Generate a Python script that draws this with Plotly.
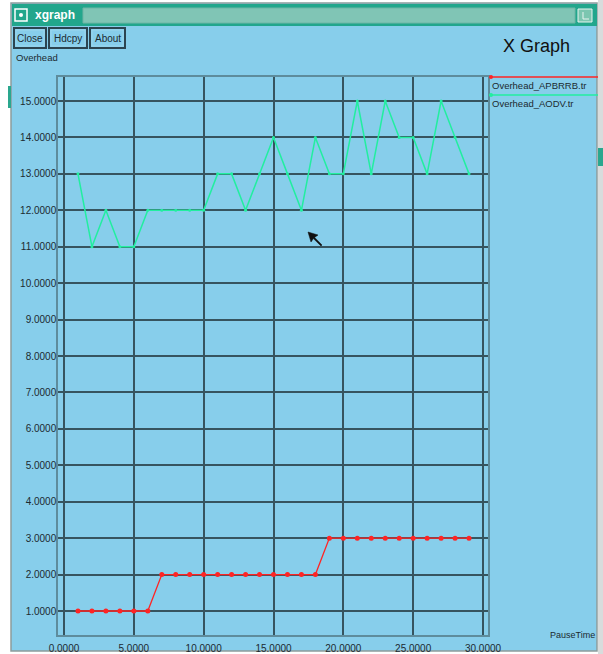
import plotly.graph_objects as go

# ---- data -------------------------------------------------------------
pause_time = list(range(1, 30))
overhead_apbrrb = [1, 1, 1, 1, 1, 1,
                   2, 2, 2, 2, 2, 2, 2, 2, 2, 2, 2, 2,
                   3, 3, 3, 3, 3, 3, 3, 3, 3, 3, 3]
overhead_aodv = [13, 11, 12, 11, 11, 12, 12, 12, 12, 12, 13, 13, 12, 13, 14,
                 13, 12, 14, 13, 13, 15, 13, 15, 14, 14, 13, 15, 14, 13]
series_names = ["Overhead_APBRRB.tr", "Overhead_AODV.tr"]
x_ticks = [0, 5, 10, 15, 20, 25, 30]
y_ticks = list(range(1, 16))
x_label = "PauseTime"
y_label = "Overhead"
graph_title = "X Graph"
window_title = "xgraph"
buttons = ["Close", "Hdcpy", "About"]

# ---- geometry (pixels) ------------------------------------------------
WIDTH, HEIGHT = 603, 654
L, R, T, B = 58, 488, 77, 635          # plot frame
W, H = R - L, B - T
X0_PX, X30_PX = 64, 483                 # pixel of x=0 and x=30
Y15_PX, Y1_PX = 101, 611                # pixel of y=15 and y=1
sx = (X30_PX - X0_PX) / 30.0
sy = (Y1_PX - Y15_PX) / 14.0
x_range = [-(X0_PX - L) / sx, (R - X0_PX) / sx]
y_range = [1 - (B - Y1_PX) / sy, 15 + (Y15_PX - T) / sy]


def px(x):
    return (x - L) / W


def py(y):
    return (B - y) / H


SKY = "#87ceeb"
GRID = "#36545f"
FRAME = "#5e8c9c"
TEXT = "#1c2a30"
RED = "#ff2424"
GREEN = "#22eea0"
FONT = "Liberation Sans, Arial, sans-serif"
NARROW = "Liberation Sans Narrow, Arial Narrow, Liberation Sans, sans-serif"

fig = go.Figure()
fig.add_trace(go.Scatter(
    x=pause_time, y=overhead_apbrrb, name=series_names[0], mode="lines+markers",
    line=dict(color=RED, width=1.3), marker=dict(color=RED, size=5)))
fig.add_trace(go.Scatter(
    x=pause_time, y=overhead_aodv, name=series_names[1], mode="lines+markers",
    line=dict(color=GREEN, width=1.5), marker=dict(color=GREEN, size=3)))

shapes = []
annotations = []


def rect(x0, y0, x1, y1, fill=None, line=None, lw=0, layer="below"):
    shapes.append(dict(type="rect", xref="paper", yref="paper",
                       x0=px(x0), x1=px(x1), y0=py(y1), y1=py(y0),
                       fillcolor=fill if fill else "rgba(0,0,0,0)",
                       line=dict(color=line if line else "rgba(0,0,0,0)", width=lw),
                       layer=layer))


def seg(x0, y0, x1, y1, color, lw, layer="above"):
    shapes.append(dict(type="line", xref="paper", yref="paper",
                       x0=px(x0), x1=px(x1), y0=py(y0), y1=py(y1),
                       line=dict(color=color, width=lw), layer=layer))


def text(s, x, y, size=10, color=TEXT, xa="left", ya="middle", family=FONT, bold=False):
    annotations.append(dict(text=f"<b>{s}</b>" if bold else s, x=px(x), y=py(y),
                            xref="paper", yref="paper", showarrow=False,
                            xanchor=xa, yanchor=ya,
                            font=dict(size=size, color=color, family=family)))


# window body and border
rect(11, 3, 597, 651, fill=SKY, line="#8d9c9c", lw=1.5)
# slivers of other windows around the edges
rect(8, 86, 11, 108, fill="#2aa78e")
rect(598, 0, 603, 654, fill="#d8dcdc")
rect(598, 148, 603, 166, fill="#2aa78e")

# title bar
rect(12, 4, 597, 26, fill="#22a68c")
rect(83, 8, 575, 23, fill="#80c5b5", line="#6fb5a5", lw=1)
rect(15, 9, 27, 21, fill="#22a68c", line="white", lw=1.5)
shapes.append(dict(type="circle", xref="paper", yref="paper",
                   x0=px(19), x1=px(23), y0=py(17), y1=py(13),
                   fillcolor="white", line=dict(color="white", width=0)))
rect(578, 9, 592, 22, fill="#7cc6b0", line="#e8f4f0", lw=1)
seg(583, 12, 583, 19, "#e8f4f0", 1)
seg(583, 19, 589, 19, "#e8f4f0", 1)
text(window_title, 33, 15, size=12, color="white", bold=True)

# buttons
btn_x = [(14, 46), (49, 87), (90, 125)]
for label, (bx0, bx1) in zip(buttons, btn_x):
    rect(bx0, 28, bx1, 48, line="#2c4450", lw=2)
    rect(bx0 + 2, 30, bx1 - 2, 46, line="#9bd6ee", lw=1)
    text(label, (bx0 + bx1) / 2, 38.5, size=10, xa="center", family=NARROW)

text(y_label, 14, 58, size=9.5, family=NARROW)
text(graph_title, 536, 46, size=18, color="#101010", xa="center")
text(x_label, 597, 635, size=9, xa="right", family=NARROW)

# legend
legend_rows = [(77, RED, series_names[0]), (95, GREEN, series_names[1])]
for ly, col, name in legend_rows:
    seg(490, ly, 598, ly, col, 1.4)
    shapes.append(dict(type="circle", xref="paper", yref="paper",
                       x0=px(489), x1=px(493), y0=py(ly + 2), y1=py(ly - 2),
                       fillcolor=col, line=dict(width=0)))
    text(name, 490, ly + 8, size=9.5, family=FONT)

# mouse pointer
pts = [(0, 0), (10, 3), (6.6, 5.4), (14, 13), (13, 14), (5.4, 6.6), (3, 10)]
ox, oy = 308, 232
path = "M " + " L ".join(f"{px(ox + a)},{py(oy + b)}" for a, b in pts) + " Z"
shapes.append(dict(type="path", xref="paper", yref="paper", path=path,
                   fillcolor="#101010", line=dict(color="#101010", width=0.5)))

axis_common = dict(showgrid=True, gridcolor=GRID, gridwidth=1.5, zeroline=False,
                   showline=True, linecolor=FRAME, linewidth=1.5, mirror=True,
                   ticks="", tickfont=dict(size=10, color=TEXT, family=FONT),
                   fixedrange=True, automargin=False)

fig.update_layout(
    width=WIDTH, height=HEIGHT, autosize=False,
    margin=dict(l=L, r=WIDTH - R, t=T, b=HEIGHT - B, autoexpand=False),
    paper_bgcolor="white", plot_bgcolor=SKY,
    showlegend=False,
    xaxis=dict(range=x_range, tickvals=x_ticks, ticklabelstandoff=3,
               ticktext=[f"{v:.4f}" for v in x_ticks], **axis_common),
    yaxis=dict(range=y_range, tickvals=y_ticks, ticklabelstandoff=-2,
               ticktext=[f"{v:.4f}" for v in y_ticks], **axis_common),
    shapes=shapes, annotations=annotations,
)

fig.write_html("out.html")
